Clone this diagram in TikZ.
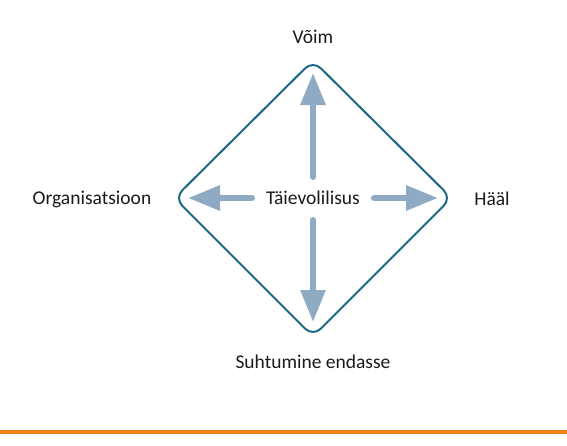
\documentclass[tikz,border=0pt]{standalone}
\usepackage{fontspec}
\setmainfont{Carlito}
\usetikzlibrary{arrows.meta}
\definecolor{frame}{HTML}{1D6884}
\definecolor{arr}{HTML}{8FAAC3}
\definecolor{txt}{HTML}{1A1A1A}
\definecolor{orange}{HTML}{EF8315}
\begin{document}
\begin{tikzpicture}[x=1pt,y=-1pt,
  lbl/.style={font=\fontsize{19.5}{21}\selectfont,text=txt,inner sep=0pt},
  bigarrow/.style={draw=arr,line width=6pt,line cap=round,-{Triangle[length=32pt,width=24pt]}}]
\useasboundingbox (0,0) rectangle (567,445);
\fill[white] (0,0) rectangle (567,445);
\coordinate (T) at (313,60.5);
\coordinate (R) at (451.5,198);
\coordinate (B) at (313,336.5);
\coordinate (L) at (174.5,198);
\draw[frame,line width=2pt,rounded corners=11pt] (T) -- (R) -- (B) -- (L) -- cycle;
\node[lbl] (c) at (313,198) {Täievolilisus};
\coordinate (us) at (313,177); \coordinate (ut) at (313,73);
\coordinate (ds) at (313,220); \coordinate (dt) at (313,322);
\coordinate (ls) at (252,198); \coordinate (lt) at (188,198);
\coordinate (rs) at (374,198); \coordinate (rt) at (438,198);
\draw[bigarrow] (us) -- (ut);
\draw[bigarrow] (ds) -- (dt);
\draw[bigarrow] (ls) -- (lt);
\draw[bigarrow] (rs) -- (rt);
\node[lbl] (v) at (313,37) {Võim};
\node[lbl] (o) at (92,199) {Organisatsioon};
\node[lbl] (h) at (492,199) {Hääl};
\node[lbl] (s) at (313,362) {Suhtumine endasse};
\draw[orange,line width=4pt] (0,432) -- (567,432);
\end{tikzpicture}
\end{document}
